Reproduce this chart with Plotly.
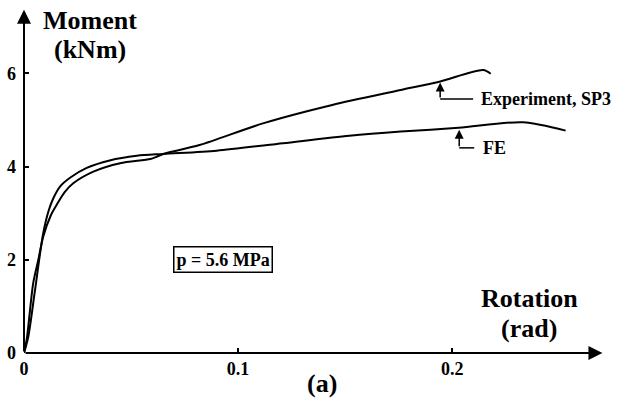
import plotly.graph_objects as go

# Data
exp_x = [0, 0.0013, 0.0043, 0.0067, 0.009, 0.0125, 0.0153, 0.019, 0.023, 0.0324, 0.0449, 0.059, 0.062, 0.065, 0.082, 0.112, 0.144, 0.176, 0.194, 0.2145, 0.218]
exp_y = [0, 0.30, 1.50, 2.00, 2.50, 2.95, 3.18, 3.45, 3.64, 3.89, 4.07, 4.16, 4.21, 4.27, 4.46, 4.93, 5.32, 5.64, 5.82, 6.07, 5.99]

fe_x = [0, 0.002, 0.005, 0.0089, 0.0115, 0.0137, 0.017, 0.0215, 0.0293, 0.040, 0.0527, 0.065, 0.090, 0.121, 0.152, 0.176, 0.203, 0.233, 0.253]
fe_y = [0, 0.35, 1.30, 2.55, 3.05, 3.32, 3.58, 3.76, 3.97, 4.13, 4.23, 4.27, 4.34, 4.50, 4.66, 4.75, 4.83, 4.95, 4.77]

x_ticks = [0, 0.1, 0.2]
x_tick_labels = ["0", "0.1", "0.2"]
y_ticks = [0, 2, 4, 6]
y_tick_labels = ["0", "2", "4", "6"]

FONT = "Liberation Serif"
L, R, T, B = 24, 20, 8, 60
WIDTH, HEIGHT = 622, 413
PW = WIDTH - L - R
PH = HEIGHT - T - B


def px(xp):
    return (xp - L) / PW


def py(yp):
    return (HEIGHT - B - yp) / PH


fig = go.Figure()
fig.add_trace(go.Scatter(x=exp_x, y=exp_y, mode="lines", name="Experiment, SP3",
                         line=dict(color="black", width=2, shape="spline", smoothing=0.8)))
fig.add_trace(go.Scatter(x=fe_x, y=fe_y, mode="lines", name="FE",
                         line=dict(color="black", width=2, shape="spline", smoothing=0.8)))

ann = []


def text(t, xp, yp, size, xanchor="center"):
    ann.append(dict(text="<b>" + t + "</b>", x=px(xp), y=py(yp), xref="paper", yref="paper",
                    xanchor=xanchor, yanchor="middle", showarrow=False,
                    font=dict(family=FONT, size=size, color="black")))


text("Moment", 90, 20, 26)
text("(kNm)", 90, 50, 26)
text("Rotation", 529, 298, 26)
text("(rad)", 529, 328, 26)
text("(a)", 322, 383, 26)
text("Experiment, SP3", 479, 99, 18, "left")
text("FE", 481, 148, 18, "left")

ann.append(dict(text="<b>p = 5.6 MPa</b>", x=px(223), y=py(259), xref="paper", yref="paper",
                xanchor="center", yanchor="middle", showarrow=False,
                bordercolor="black", borderwidth=1.5, borderpad=2,
                font=dict(family=FONT, size=18, color="black")))

# axis arrows
ann.append(dict(x=0.2702, y=0, ax=0, ay=0, xref="x", yref="y", axref="x", ayref="y",
                showarrow=True, arrowhead=2, arrowsize=1.4, arrowwidth=2, arrowcolor="black", text=""))
ann.append(dict(x=0, y=7.36, ax=0, ay=0, xref="x", yref="y", axref="x", ayref="y",
                showarrow=True, arrowhead=2, arrowsize=1.4, arrowwidth=2, arrowcolor="black", text=""))

# pointer arrows
ann.append(dict(x=0.1944, y=5.80, ax=0.1944, ay=5.45, xref="x", yref="y", axref="x", ayref="y",
                showarrow=True, arrowhead=2, arrowsize=1.2, arrowwidth=1.5, arrowcolor="black", text=""))
ann.append(dict(x=0.2033, y=4.79, ax=0.2033, ay=4.40, xref="x", yref="y", axref="x", ayref="y",
                showarrow=True, arrowhead=2, arrowsize=1.2, arrowwidth=1.5, arrowcolor="black", text=""))

shapes = [
    dict(type="line", x0=0.1944, x1=0.2098, y0=5.45, y1=5.45, xref="x", yref="y",
         line=dict(color="black", width=1.5)),
    dict(type="line", x0=0.2033, x1=0.2103, y0=4.40, y1=4.40, xref="x", yref="y",
         line=dict(color="black", width=1.5)),
]

fig.update_layout(
    width=WIDTH, height=HEIGHT,
    margin=dict(l=L, r=R, t=T, b=B),
    paper_bgcolor="white", plot_bgcolor="white",
    showlegend=False,
    annotations=ann, shapes=shapes,
    font=dict(family=FONT, color="black"),
    xaxis=dict(range=[0, 0.27], showgrid=False, zeroline=False, showline=False, automargin=False,
               tickmode="array", tickvals=x_ticks, ticktext=["<b>" + t + "</b>" for t in x_tick_labels],
               ticks="inside", ticklen=5, tickwidth=1.5, tickcolor="black", ticklabelstandoff=3,
               tickfont=dict(family=FONT, size=18, color="black")),
    yaxis=dict(range=[0, 7.4], showgrid=False, zeroline=False, showline=False, automargin=False,
               tickmode="array", tickvals=y_ticks, ticktext=["<b>" + t + "</b>" for t in y_tick_labels],
               ticks="inside", ticklen=5, tickwidth=1.5, tickcolor="black", ticklabelstandoff=7,
               tickfont=dict(family=FONT, size=18, color="black")),
)

fig.write_html("out.html", config={"displayModeBar": False},
               post_script="document.body.style.margin='0';document.body.style.padding='0';")
